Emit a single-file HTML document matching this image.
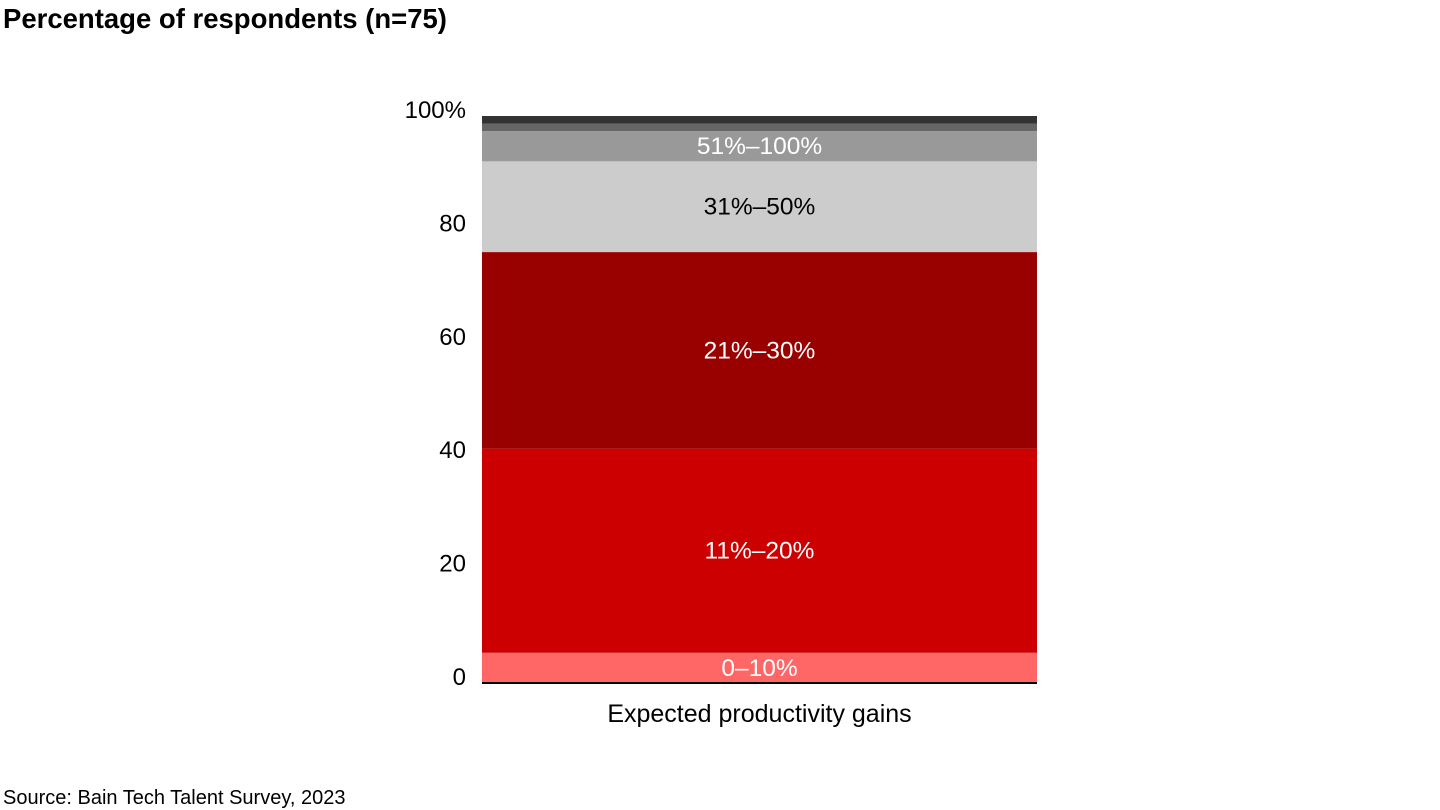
<!DOCTYPE html>
<html><head><meta charset="utf-8"><style>
body{margin:0;width:1440px;height:810px;background:#fff;font-family:"Liberation Sans",sans-serif;overflow:hidden}
svg{position:absolute;left:0;top:0}
</style></head><body>
<svg id="c" width="1440" height="810" xmlns="http://www.w3.org/2000/svg">
<text x="3" y="28" font-size="27.5" font-weight="bold" fill="#000">Percentage of respondents (n=75)</text>
<text x="3" y="804" font-size="20" fill="#000">Source: Bain Tech Talent Survey, 2023</text>
<g id="bars"></g><g id="axis"></g>
</svg>
<script>
const segLabels=["0–10%","11%–20%","21%–30%","31%–50%","51%–100%","",""];
const segValues=[4,27,26,12,4,1,1];
const segColors=["#ff6666","#cc0000","#990000","#cccccc","#999999","#666666","#333333"];
const labelColors=["#fff","#fff","#fff","#000","#fff","#fff","#fff"];
const tickValues=[0,20,40,60,80,100];
const tickLabels=["0","20","40","60","80","100%"];
const category="Expected productivity gains";
const NS="http://www.w3.org/2000/svg";
const y0=683,y100=116,x0=482,x1=1037;
const total=segValues.reduce((a,b)=>a+b,0);
const y=p=>y0-(y0-y100)*p/100;
const bars=document.getElementById('bars'),axis=document.getElementById('axis');
let cum=0;
segValues.forEach((v,i)=>{
 const p0=cum/total*100,p1=(cum+v)/total*100;cum+=v;
 const r=document.createElementNS(NS,'rect');
 r.setAttribute('x',x0);r.setAttribute('width',x1-x0);
 r.setAttribute('y',y(p1));r.setAttribute('height',y(p0)-y(p1));
 r.setAttribute('fill',segColors[i]);
 
 
 bars.appendChild(r);
 if(segLabels[i]){
  const t=document.createElementNS(NS,'text');
  t.setAttribute('x',(x0+x1)/2);t.setAttribute('y',(y(p0)+y(p1))/2+8);
  t.setAttribute('text-anchor','middle');t.setAttribute('font-size','24.5');
  t.setAttribute('fill',labelColors[i]);t.textContent=segLabels[i];
  
  
  bars.appendChild(t);
 }
});
tickValues.forEach((v,i)=>{
 const t=document.createElementNS(NS,'text');
 t.setAttribute('x',466);t.setAttribute('y',y(v)+2);
 t.setAttribute('text-anchor','end');t.setAttribute('font-size','24');
 t.textContent=tickLabels[i];
 
 
 axis.appendChild(t);
});
const base=document.createElementNS(NS,'line');
base.setAttribute('x1',x0);base.setAttribute('x2',x1);base.setAttribute('y1',y0);base.setAttribute('y2',y0);
base.setAttribute('stroke','#000');base.setAttribute('stroke-width','2');


axis.appendChild(base);
const cl=document.createElementNS(NS,'text');
cl.setAttribute('x',(x0+x1)/2);cl.setAttribute('y',722);cl.setAttribute('text-anchor','middle');
cl.setAttribute('font-size','25');cl.textContent=category;


axis.appendChild(cl);
</script>
</body></html>
